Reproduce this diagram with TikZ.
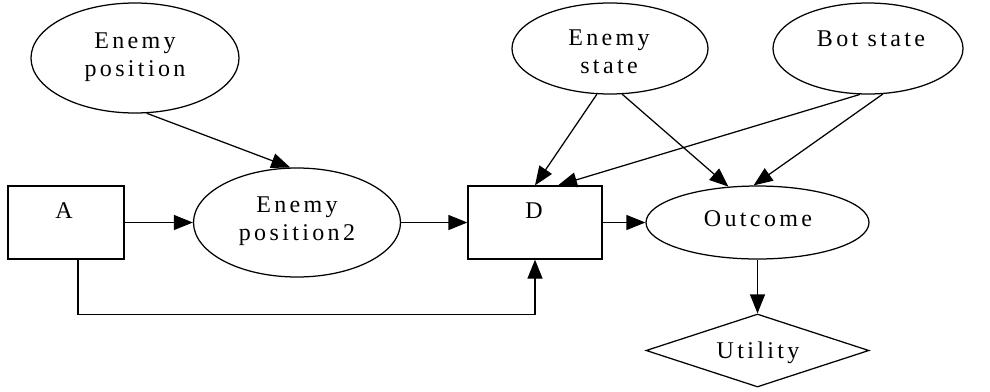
\documentclass[tikz,border=0pt]{standalone}
\usepackage{fontspec}
\newfontfamily\lblfont[LetterSpace=14]{Liberation Serif}
\usetikzlibrary{shapes.geometric,arrows.meta,calc}
\begin{document}
\begin{tikzpicture}[x=1pt,y=-1pt,
  line width=1.25pt,
  chance/.style={draw,ellipse,inner sep=0pt},
  decision/.style={draw,rectangle,inner sep=0pt},
  value/.style={draw,diamond,inner sep=0pt},
  txt/.style={anchor=base,align=center,inner sep=0pt,font=\lblfont\fontsize{24}{28.5}\selectfont},
  arr/.style={-{Triangle[length=19pt,width=15pt]}}]
\useasboundingbox (0,0) rectangle (990,391);

% shapes
\node[chance,minimum width=208pt,minimum height=110pt] (Epos) at (135,58) {};
\node[chance,minimum width=196pt,minimum height=91pt] (Estate) at (610,48.5) {};
\node[chance,minimum width=190pt,minimum height=91pt] (Bstate) at (868,48.5) {};
\node[chance,minimum width=207pt,minimum height=109pt] (Epos2) at (297,222.5) {};
\node[chance,minimum width=223pt,minimum height=73pt] (Outcome) at (757.5,222.5) {};
\node[decision,minimum width=116pt,minimum height=73pt] (A) at (66,222.5) {};
\node[decision,minimum width=134pt,minimum height=73pt] (D) at (535,222.5) {};
\node[value,minimum width=223pt,minimum height=73pt] (Utility) at (757.5,350.5) {};

% labels (base anchor sits on the last line)
\node[txt] (tEpos) at (135,76.5) {Enemy\\position};
\node[txt] (tEstate) at (609,73.5) {Enemy\\state};
\node[txt] (tBstate) at (871,46) {Bot state};
\node[txt] (tEpos2) at (297,240.5) {Enemy\\position2};
\node[txt] (tA) at (64,218) {A};
\node[txt] (tD) at (534,218) {D};
\node[txt] (tOutcome) at (758,226) {Outcome};
\node[txt] (tUtility) at (758,358) {Utility};

% influences
\draw[arr] (Epos.282) -- (Epos2.97);
\draw[arr] (A.east) -- (Epos2.west);
\draw[arr] (Epos2.east) -- (D.west);
\draw[arr] (D.east) -- (Outcome.west);
\draw[arr] (Estate.254) -- (D.north);
\draw[arr] (Bstate.260) -- ([xshift=23pt]D.north);
\draw[arr] (Estate.285) -- (Outcome.129);
\draw[arr] (Bstate.288) -- (Outcome.96);
\draw[arr] (Outcome.south) -- (Utility.north);
\draw[arr] ([xshift=12pt]A.south) -- ++(0,-55pt) -| (D.south);
\end{tikzpicture}
\end{document}
